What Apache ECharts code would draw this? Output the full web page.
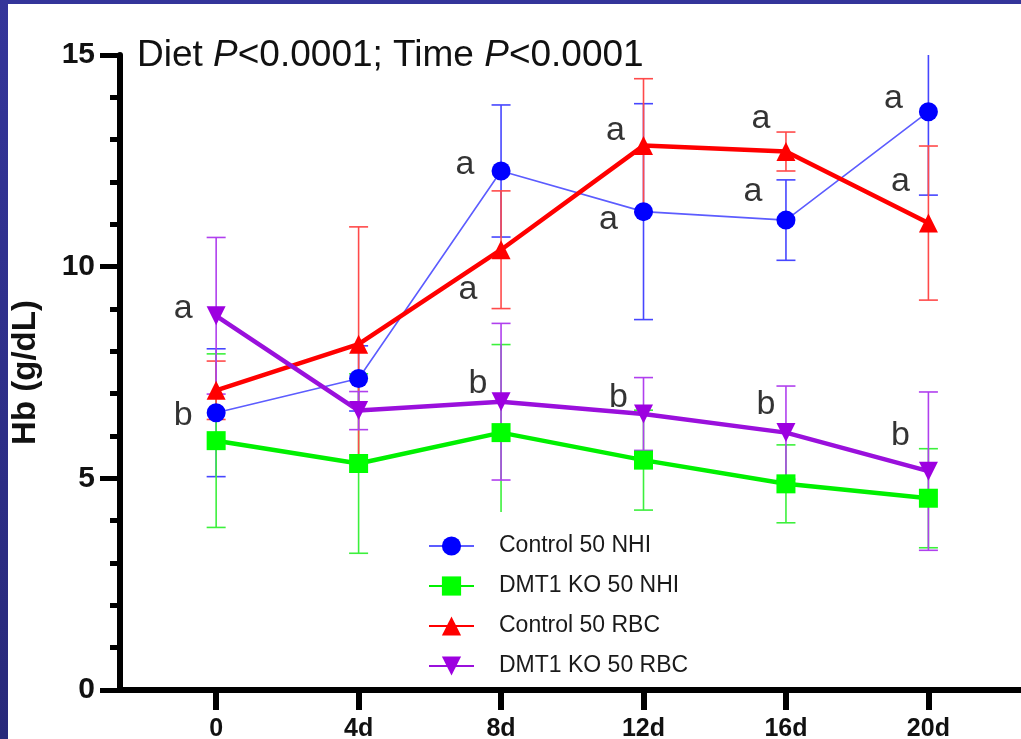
<!DOCTYPE html>
<html>
<head>
<meta charset="utf-8">
<script src="https://cdn.jsdelivr.net/npm/echarts@6/dist/echarts.min.js"></script>
<style>
  html, body { margin: 0; padding: 0; }
  body {
    width: 1021px; height: 739px; overflow: hidden; position: relative;
    background: linear-gradient(#34359a, #28297a);
  }
  #chart { position: absolute; left: 8px; top: 4px; width: 1013px; height: 735px; background: #fff; }
</style>
</head>
<body>
<div id="chart"></div>
<script>
// x positions (days) and tick labels
const days = [0, 4, 8, 12, 16, 20];
const dayLabels = ['0', '4d', '8d', '12d', '16d', '20d'];

const seriesNames = ['Control 50 NHI', 'DMT1 KO 50 NHI', 'Control 50 RBC', 'DMT1 KO 50 RBC'];

// Hb means and error (g/dL)
const controlNhi = [6.55, 7.36, 12.26, 11.30, 11.10, 13.66];
const controlNhiErr = [1.51, 0.77, 1.56, 2.55, 0.95, 1.97];

const koNhi = [5.89, 5.35, 6.08, 5.43, 4.87, 4.53];
const koNhiErr = [2.05, 2.12, 2.08, 1.18, 0.92, 1.17];

const controlRbc = [7.08, 8.17, 10.40, 12.86, 12.72, 11.03];
const controlRbcErr = [0.69, 2.77, 1.39, 1.58, 0.46, 1.82];

const koRbc = [8.84, 6.60, 6.81, 6.52, 6.08, 5.17];
const koRbcErr = [1.85, 0.45, 1.85, 0.86, 1.10, 1.87];

// significance letters per point
const controlNhiLetters = ['b', '', 'a', 'a', 'a', 'a'];
const controlRbcLetters = ['', '', 'a', 'a', 'a', 'a'];
const koRbcLetters = ['a', '', 'b', 'b', 'b', 'b'];

const yTop = 15;
const FONT = "'Liberation Sans', Arial, sans-serif";

const chart = echarts.init(document.getElementById('chart'));

function errorBars(means, errs, color) {
  return {
    type: 'custom',
    silent: true,
    z: 2,
    data: days.map((d, i) => [d, means[i], errs[i]]),
    encode: { x: 0, y: 1 },
    renderItem: (params, api) => {
      const x = api.value(0), m = api.value(1), e = api.value(2);
      const hi = Math.min(m + e, yTop);
      const pHi = api.coord([x, hi]);
      const pLo = api.coord([x, Math.max(m - e, 0)]);
      const style = { stroke: color, lineWidth: 1.6 };
      const w = 9.5;
      const children = [
        { type: 'line', shape: { x1: pHi[0], y1: pHi[1], x2: pLo[0], y2: pLo[1] }, style },
        { type: 'line', shape: { x1: pLo[0] - w, y1: pLo[1], x2: pLo[0] + w, y2: pLo[1] }, style }
      ];
      if (m + e <= yTop) {
        children.push({ type: 'line', shape: { x1: pHi[0] - w, y1: pHi[1], x2: pHi[0] + w, y2: pHi[1] }, style });
      }
      return { type: 'group', children };
    }
  };
}

function lineSeries(name, means, color, lineColor, width, symbol, rotate) {
  return {
    name,
    type: 'line',
    z: 3,
    data: days.map((d, i) => [d, means[i]]),
    symbol,
    symbolSize: 19,
    symbolRotate: rotate || 0,
    itemStyle: { color },
    lineStyle: { color: lineColor, width },
    emphasis: { disabled: true }
  };
}

// label offsets in px, relative to each point
const letterOffsets = {
  nhi: [[-33, 3], null, [-36, -6], [-35, 8], [-33, -28], [-35, -13]],
  rbc: [null, null, [-33, 40], [-28, -15], [-25, -33], [-28, -41]],
  ko: [[-33, -7], null, [-23, -18], [-25, -16], [-20, -28], [-28, -36]]
};

function letterSeries(means, letters, offsets) {
  return {
    type: 'scatter',
    silent: true,
    z: 5,
    symbolSize: 0,
    data: days.map((d, i) => letters[i] ? {
      value: [d, means[i]],
      label: { formatter: letters[i], offset: offsets[i] }
    } : null).filter(Boolean),
    label: {
      show: true, position: 'inside',
      fontFamily: FONT, fontSize: 34, color: '#000',
      textBorderWidth: 0, textBorderColor: 'transparent'
    }
  };
}

const option = {
  backgroundColor: '#fff',
  animation: false,
  title: {
    text: '{n|Diet }{i|P}{n|<0.0001; Time }{i|P}{n|<0.0001}',
    left: 129,
    top: 33,
    padding: 0,
    textStyle: {
      fontWeight: 'normal',
      rich: {
        n: { fontFamily: FONT, fontSize: 37, fontWeight: 'normal', color: '#111' },
        i: { fontFamily: FONT, fontSize: 37, fontWeight: 'normal', fontStyle: 'italic', color: '#111' }
      }
    }
  },
  legend: {
    data: seriesNames,
    orient: 'vertical',
    left: 400,
    top: 508,
    padding: [22, 10, 9, 20],
    itemGap: 16,
    itemWidth: 45,
    itemHeight: 24,
    backgroundColor: '#fff',
    selectedMode: false,
    textStyle: { fontFamily: FONT, fontSize: 23, color: '#1a1a1a', lineHeight: 24, padding: [0, 0, 0, 20] }
  },
  grid: { left: 112, right: 0, top: 51, bottom: 49, containLabel: false, outerBoundsMode: 'none' },
  xAxis: {
    type: 'value',
    min: -2.7,
    max: 22.6,
    splitLine: { show: false },
    axisLine: { show: true, onZero: false, lineStyle: { color: '#000', width: 6 } },
    axisTick: { show: true, customValues: days, length: 20, lineStyle: { color: '#000', width: 6 } },
    axisLabel: {
      customValues: days,
      formatter: (v) => dayLabels[days.indexOf(v)],
      fontFamily: FONT, fontSize: 25, fontWeight: 'bold', color: '#111', margin: 27
    }
  },
  yAxis: {
    type: 'value',
    min: 0,
    max: 15,
    interval: 5,
    name: 'Hb (g/dL)',
    nameLocation: 'middle',
    nameGap: 78,
    nameTextStyle: { fontFamily: FONT, fontSize: 33, fontWeight: 'bold', color: '#111' },
    splitLine: { show: false },
    axisLine: { show: true, onZero: false, lineStyle: { color: '#000', width: 6 } },
    axisTick: { show: true, length: 20, lineStyle: { color: '#000', width: 5 } },
    minorTick: { show: true, splitNumber: 5, length: 10, lineStyle: { color: '#000', width: 5 } },
    axisLabel: { fontFamily: FONT, fontSize: 30, fontWeight: 'bold', color: '#111', margin: 25 }
  },
  series: [
    errorBars(controlNhi, controlNhiErr, '#4646ff'),
    lineSeries(seriesNames[0], controlNhi, '#0000ff', '#5c5cff', 1.6, 'circle'),
    errorBars(koNhi, koNhiErr, '#3cf03c'),
    lineSeries(seriesNames[1], koNhi, '#00ff00', '#00f000', 4.5, 'rect'),
    errorBars(controlRbc, controlRbcErr, '#ff4a4a'),
    lineSeries(seriesNames[2], controlRbc, '#ff0000', '#ff0000', 4.5, 'triangle'),
    errorBars(koRbc, koRbcErr, '#b040ee'),
    lineSeries(seriesNames[3], koRbc, '#9d00e0', '#9a10dc', 4.5, 'triangle', 180),
    letterSeries(controlNhi, controlNhiLetters, letterOffsets.nhi),
    letterSeries(controlRbc, controlRbcLetters, letterOffsets.rbc),
    letterSeries(koRbc, koRbcLetters, letterOffsets.ko)
  ]
};

chart.setOption(option);
</script>
</body>
</html>
